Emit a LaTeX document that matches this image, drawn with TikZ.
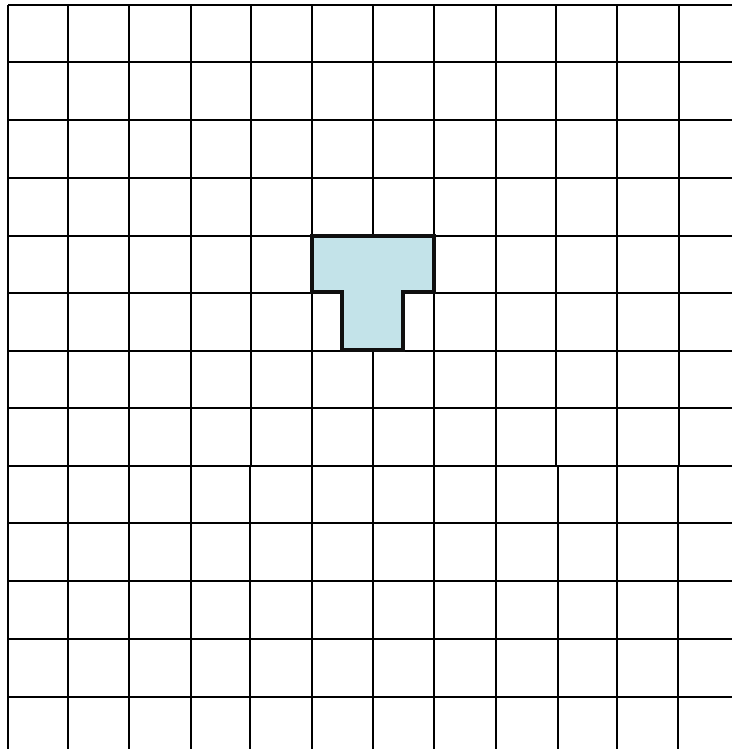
\documentclass[tikz,border=0pt]{standalone}
\usepackage{xcolor}
\usepackage{tikz}
\definecolor{tilefill}{RGB}{195,227,233}
\definecolor{tileline}{RGB}{15,15,15}

\begin{document}
\begin{tikzpicture}[x=0.02cm, y=-0.02cm]
\useasboundingbox (0,0) rectangle (732,749);
% grid: rows top to bottom, columns left to right (hand drawn, so not quite even)
\foreach \y in {5,62,120,178,236,293,351,408,466,523,581,639,697}{
  \draw[line width=0.7pt] (8, \y) -- (732, \y);
}
% upper half of the columns
\foreach \x in {8,68,129,191,251,312,373,434,496,556,617,679}{
  \draw[line width=0.7pt] (\x, 5) -- (\x, 466);
}
% lower half of the columns, shifted a little
\foreach \x in {8,68,129,191,250,312,373,434,496,558,617,678}{
  \draw[line width=0.7pt] (\x, 466) -- (\x, 749);
}
% T piece: two cells wide on top, stem one cell wide below
\fill[tilefill]
  (312, 236) -- (434, 236) -- (434, 292) -- (403, 292) -- (403, 350)
  -- (342, 350) -- (342, 292) -- (312, 292) -- cycle;
\draw[draw=tileline, line width=1.8pt]
  (312, 236) -- (434, 236) -- (434, 292) -- (403, 292) -- (403, 350)
  -- (342, 350) -- (342, 292) -- (312, 292) -- cycle;
\end{tikzpicture}
\end{document}
